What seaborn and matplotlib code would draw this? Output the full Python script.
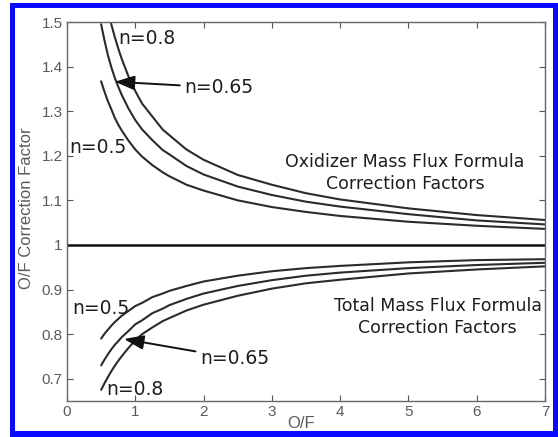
import numpy as np
import pandas as pd
import seaborn as sns
import matplotlib.pyplot as plt
from matplotlib.patches import Rectangle

# --- data ---
of_ratio = [0.5, 0.55, 0.6, 0.65, 0.7, 0.75, 0.8, 0.9, 1.0, 1.1, 1.25, 1.4, 1.5, 1.75,
            2.0, 2.5, 3.0, 3.5, 4.0, 5.0, 6.0, 7.0]

# oxidizer mass flux formula correction factors (upper family)
ox_n050 = [1.367, 1.343, 1.322, 1.304, 1.285, 1.270, 1.257, 1.234, 1.214, 1.198, 1.179,
           1.163, 1.154, 1.135, 1.122, 1.100, 1.085, 1.074, 1.065, 1.052, 1.043, 1.036]
ox_n065 = [1.495, 1.458, 1.425, 1.398, 1.375, 1.355, 1.337, 1.306, 1.280, 1.259, 1.235,
           1.213, 1.203, 1.177, 1.158, 1.131, 1.112, 1.097, 1.086, 1.069, 1.055, 1.046]
ox_n080 = [1.605, 1.563, 1.527, 1.494, 1.466, 1.441, 1.418, 1.378, 1.345, 1.317, 1.288,
           1.259, 1.246, 1.214, 1.191, 1.157, 1.135, 1.116, 1.102, 1.082, 1.067, 1.056]

# total mass flux formula correction factors (lower family)
tot_n050 = [0.790, 0.801, 0.810, 0.819, 0.827, 0.834, 0.841, 0.852, 0.863, 0.870, 0.883,
            0.891, 0.897, 0.908, 0.918, 0.931, 0.941, 0.948, 0.953, 0.961, 0.966, 0.968]
tot_n065 = [0.730, 0.743, 0.755, 0.766, 0.776, 0.784, 0.793, 0.807, 0.822, 0.831, 0.847,
            0.857, 0.865, 0.879, 0.891, 0.908, 0.921, 0.931, 0.938, 0.948, 0.955, 0.960]
tot_n080 = [0.675, 0.690, 0.704, 0.717, 0.729, 0.740, 0.750, 0.769, 0.786, 0.800, 0.815,
            0.829, 0.836, 0.853, 0.866, 0.886, 0.902, 0.914, 0.922, 0.936, 0.945, 0.952]

series = {
    "ox_0.5": ox_n050, "ox_0.65": ox_n065, "ox_0.8": ox_n080,
    "tot_0.5": tot_n050, "tot_0.65": tot_n065, "tot_0.8": tot_n080,
}
df = pd.concat(
    [pd.DataFrame({"OF": of_ratio, "factor": v, "curve": k}) for k, v in series.items()],
    ignore_index=True,
)

# --- plot ---
sns.set_theme(style="ticks")
plt.rcParams['font.family'] = ['Liberation Sans', 'DejaVu Sans']

fig = plt.figure(figsize=(5.58, 4.37), dpi=100)
fig.patch.set_facecolor("white")

# blue frame around the picture
W, H = 558, 437
fig.patches.append(Rectangle((10 / W, 0), 548 / W, 434 / H, transform=fig.transFigure,
                             facecolor="#0a0aff", edgecolor="none", zorder=-3))
fig.patches.append(Rectangle((15 / W, (H - 431) / H), 538 / W, 423 / H, transform=fig.transFigure,
                             facecolor="white", edgecolor="none", zorder=-2))

ax = fig.add_axes([67 / W, 1 - 401 / H, 478 / W, 379 / H])
ax.set_facecolor("white")

sns.lineplot(data=df, x="OF", y="factor", units="curve", estimator=None,
             color="#2b2b2b", linewidth=1.5, ax=ax, legend=False)
ax.axhline(1.0, color="#111111", linewidth=1.8)

ax.set_xlim(0, 7)
ax.set_ylim(0.65, 1.5)
ax.set_xticks(range(0, 8))
ax.set_yticks([0.7, 0.8, 0.9, 1.0, 1.1, 1.2, 1.3, 1.4, 1.5])
ax.set_yticklabels(["0.7", "0.8", "0.9", "1", "1.1", "1.2", "1.3", "1.4", "1.5"])

ax.tick_params(direction="in", top=True, right=True, length=4, width=0.8,
               color="#555555", labelcolor="#5a5a5a", labelsize=11, pad=3)
for s in ax.spines.values():
    s.set_color("#666666")
    s.set_linewidth(1.0)

ax.set_xlabel("O/F", fontsize=12, color="#5a5a5a")
ax.set_ylabel("O/F Correction Factor", fontsize=12, color="#5a5a5a")
ax.xaxis.set_label_coords(0.49, -0.04)
ax.yaxis.set_label_coords(-0.068, 0.51)

# curve labels
lab = dict(fontsize=13.5, color="#1e1e1e", family="DejaVu Sans", va="center", ha="left")
ax.text(0.75, 1.463, "n=0.8", **lab)
ax.text(0.04, 1.218, "n=0.5", **lab)
ax.text(0.07, 0.858, "n=0.5", **lab)
ax.text(0.58, 0.675, "n=0.8", **lab)

arrow = dict(arrowstyle="-|>,head_length=0.6,head_width=0.22", color="#111111",
             lw=1.4, mutation_scale=20, shrinkA=1, shrinkB=0)
ax.annotate("n=0.65", xy=(0.70, 1.366), xytext=(1.72, 1.353), arrowprops=arrow, **lab)
ax.annotate("n=0.65", xy=(0.835, 0.789), xytext=(1.95, 0.746), arrowprops=arrow, **lab)

big = dict(fontsize=12.5, color="#1e1e1e", family="DejaVu Sans", ha="center", va="center",
           linespacing=1.25)
ax.text(4.95, 1.161, "Oxidizer Mass Flux Formula\nCorrection Factors", **big)
ax.text(5.43, 0.838, "Total Mass Flux Formula\nCorrection Factors", **big)

fig.savefig("out.png", dpi=100)
